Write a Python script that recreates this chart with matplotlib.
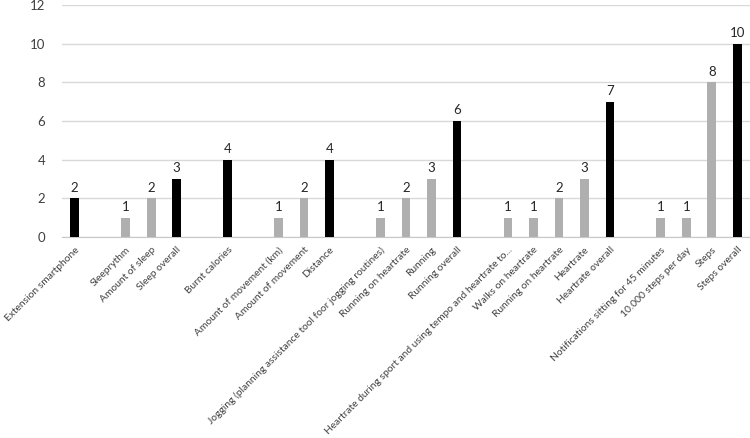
import matplotlib
matplotlib.use("Agg")
import matplotlib.pyplot as plt

# categories in display order ("" = empty gap slot)
labels = [
    "Extension smartphone", "",
    "Sleeprythm", "Amount of sleep", "Sleep overall", "",
    "Burnt calories", "",
    "Amount of movement (km)", "Amount of movement", "Distance", "",
    "Jogging (planning assistance tool foor jogging routines)", "Running on heartrate",
    "Running", "Running overall", "",
    "Heartrate during sport and using tempo and heartrate to...", "Walks on heartrate",
    "Running on heartrate", "Heartrate", "Heartrate overall", "",
    "Notifications sitting for 45 minutes", "10.000 steps per day", "Steps", "Steps overall",
]
values = [2, None, 1, 2, 3, None, 4, None, 1, 2, 4, None, 1, 2, 3, 6, None,
          1, 1, 2, 3, 7, None, 1, 1, 8, 10]
overall = [True, False, False, False, True, False, True, False, False, False, True, False,
           False, False, False, True, False, False, False, False, False, True, False,
           False, False, False, True]

plt.rcParams['font.family'] = ['Lato', 'DejaVu Sans']

fig = plt.figure(figsize=(7.5, 4.38), dpi=100)
ax = fig.add_axes([62 / 750, 1 - 237 / 438, (750 - 62) / 750, 232 / 438])

xs = [i for i, v in enumerate(values) if v is not None]
hs = [v for v in values if v is not None]
cols = ['#000000' if overall[i] else '#afafaf' for i in xs]
ax.bar(xs, hs, width=0.34, color=cols, zorder=3)
for x, h in zip(xs, hs):
    ax.text(x, h + 0.25, str(h), ha='center', va='bottom', fontsize=9.5, color='#262626')

ax.set_xlim(-0.5, len(labels) - 0.5)
ax.set_ylim(0, 12)
ax.set_yticks(range(0, 13, 2))
ax.yaxis.grid(True, color='#d9d9d9', linewidth=1)
ax.set_axisbelow(True)
for s in ['top', 'right', 'left']:
    ax.spines[s].set_visible(False)
ax.spines['bottom'].set_color('#c8c8c8')
ax.tick_params(axis='y', length=0, labelsize=9.5, colors='#404040', pad=12)

ax.set_xticks(range(len(labels)))
ax.set_xticklabels(labels, rotation=45, ha='right', va='top', rotation_mode='anchor')
ax.tick_params(axis='x', length=0, labelsize=7.4, colors='#404040', pad=6)

fig.savefig("out.png", dpi=100)
